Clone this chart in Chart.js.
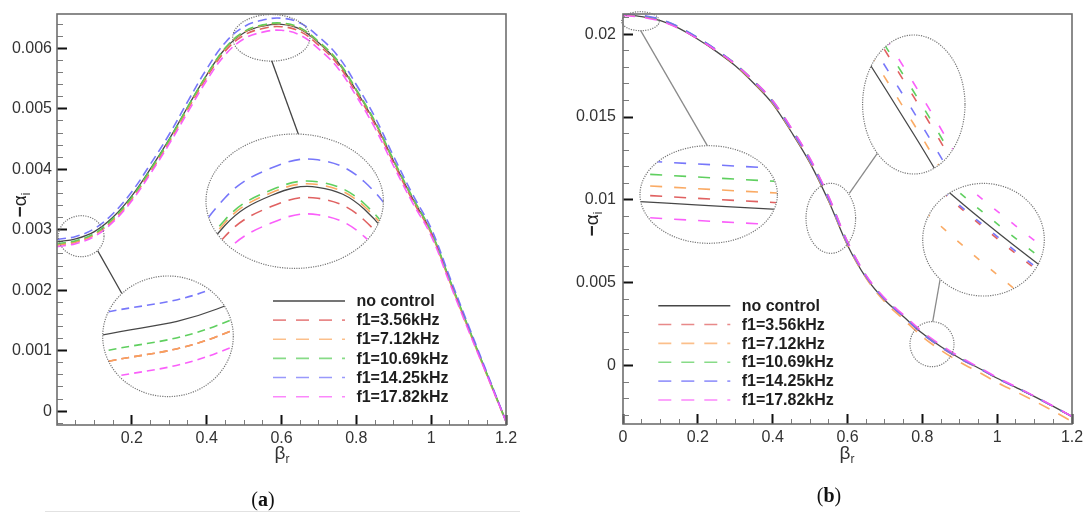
<!DOCTYPE html>
<html>
<head>
<meta charset="utf-8">
<script src="https://cdn.jsdelivr.net/npm/chart.js@4.4.0/dist/chart.umd.min.js"></script>
<style>
  html, body { margin: 0; padding: 0; background: #fff; }
  body { width: 1085px; height: 513px; position: relative; overflow: hidden; font-family: Arial, "Liberation Sans", sans-serif; }
  canvas.main { position: absolute; top: 0; z-index: 1; }
  .inset { position: absolute; z-index: 2; background: #fff; clip-path: ellipse(50% 50% at 50% 50%); }
  .inset canvas { position: absolute; left: 0; top: 0; }
  #marks { position: absolute; left: 0; top: 0; z-index: 3; }
  .txt { position: absolute; z-index: 4; white-space: nowrap; }
  .leg { font-weight: bold; font-size: 16px; line-height: 16px; color: #1e1e1e; }
  .ytitle { font-size: 19px; line-height: 19px; color: #222; transform: translate(-50%, -50%) rotate(-90deg); }
  .xtitle { font-size: 19px; line-height: 19px; color: #333; transform: translateX(-50%); }
  .panel { font-family: "Liberation Serif", "Times New Roman", serif; font-size: 20px; line-height: 20px; color: #111; transform: translateX(-50%); }
</style>
</head>
<body>
<canvas id="canvasA" class="main" style="left:0px" width="545" height="513"></canvas>
<canvas id="canvasB" class="main" style="left:545px" width="540" height="513"></canvas>
<svg id="marks" width="1085" height="513"></svg>

<div class="txt ytitle" style="left:21px;top:205px"><b>&minus;</b>&alpha;<span style="font-size:12px;position:relative;top:4px">i</span></div>
<div class="txt ytitle" style="left:593px;top:224px"><b>&minus;</b>&alpha;<span style="font-size:12px;position:relative;top:4px">i</span></div>
<div class="txt xtitle" style="left:282px;top:443px">&beta;<span style="font-size:12px;position:relative;top:4px">r</span></div>
<div class="txt xtitle" style="left:847px;top:443px">&beta;<span style="font-size:12px;position:relative;top:4px">r</span></div>
<div class="txt panel" style="left:263px;top:489px">(<b>a</b>)</div>
<div class="txt panel" style="left:829px;top:485px">(<b>b</b>)</div>
<div class="txt" style="left:45px;top:511px;width:475px;height:1px;background:#e2e2e2"></div>

<script>
// wavenumber axis shared by every curve
var betaR = [0, 0.05, 0.1, 0.15, 0.2, 0.25, 0.3, 0.35, 0.4, 0.45, 0.5, 0.55, 0.6,
             0.65, 0.7, 0.75, 0.8, 0.85, 0.9, 0.95, 1, 1.05, 1.1, 1.15, 1.2];

var seriesNames = ['no control', 'f1=3.56kHz', 'f1=7.12kHz', 'f1=10.69kHz', 'f1=14.25kHz', 'f1=17.82kHz'];

// (a)  -alpha_i
var noControlA = [0.00280, 0.00285, 0.00297, 0.00321, 0.00356, 0.00401, 0.00450, 0.00504, 0.00556, 0.00600, 0.00626, 0.00637, 0.00640,
                  0.00632, 0.00609, 0.00578, 0.00530, 0.00477, 0.00413, 0.00352, 0.00296, 0.00216, 0.00137, 0.00060, -0.00017];
var f356A  = [0.00275, 0.00280, 0.00292, 0.00316, 0.00351, 0.00396, 0.00446, 0.00500, 0.00552, 0.00596, 0.00622, 0.00633, 0.00636,
              0.00628, 0.00605, 0.00574, 0.00526, 0.00474, 0.00410, 0.00349, 0.00294, 0.00214, 0.00136, 0.00059, -0.00017];
var f712A  = [0.00275, 0.00280, 0.00292, 0.00317, 0.00352, 0.00398, 0.00447, 0.00502, 0.00555, 0.00600, 0.00627, 0.00638, 0.00641,
              0.00633, 0.00610, 0.00579, 0.00531, 0.00478, 0.00414, 0.00353, 0.00296, 0.00215, 0.00135, 0.00058, -0.00018];
var f1069A = [0.00277, 0.00282, 0.00294, 0.00319, 0.00354, 0.00400, 0.00449, 0.00504, 0.00556, 0.00601, 0.00628, 0.00639, 0.00642,
              0.00634, 0.00611, 0.00580, 0.00532, 0.00479, 0.00415, 0.00354, 0.00297, 0.00217, 0.00138, 0.00060, -0.00017];
var f1425A = [0.00284, 0.00289, 0.00302, 0.00327, 0.00363, 0.00409, 0.00458, 0.00513, 0.00566, 0.00610, 0.00636, 0.00647, 0.00650,
              0.00642, 0.00619, 0.00588, 0.00540, 0.00486, 0.00421, 0.00359, 0.00302, 0.00221, 0.00141, 0.00062, -0.00017];
var f1782A = [0.00272, 0.00277, 0.00289, 0.00313, 0.00348, 0.00393, 0.00442, 0.00495, 0.00547, 0.00590, 0.00616, 0.00627, 0.00630,
              0.00622, 0.00599, 0.00568, 0.00521, 0.00468, 0.00405, 0.00345, 0.00290, 0.00211, 0.00133, 0.00058, -0.00017];

// (b)  -alpha_i
var noControlB = [0.02116, 0.02106, 0.02082, 0.02035, 0.01970, 0.01895, 0.01810, 0.01703, 0.01580, 0.01410, 0.01222, 0.00990, 0.00727,
                  0.00530, 0.00395, 0.00295, 0.00195, 0.00114, 0.00045, -0.00014, -0.00076, -0.00131, -0.00187, -0.00246, -0.00307];
var f356B  = [0.021174, 0.021074, 0.02084, 0.02038, 0.01975, 0.01902, 0.01820, 0.01716, 0.01596, 0.01429, 0.01243, 0.01012, 0.00742,
              0.00538, 0.00398, 0.00295, 0.00192, 0.00111, 0.00043, -0.00015, -0.00076, -0.00131, -0.00187, -0.00246, -0.00307];
var f712B  = [0.021194, 0.021094, 0.02086, 0.02039, 0.01974, 0.01899, 0.01814, 0.01708, 0.01585, 0.01415, 0.01228, 0.00996, 0.00730,
              0.00527, 0.00385, 0.00279, 0.00175, 0.00092, 0.00022, -0.00038, -0.00101, -0.00157, -0.00214, -0.00274, -0.00337];
var f1069B = [0.021218, 0.021118, 0.02088, 0.02042, 0.01978, 0.01905, 0.01822, 0.01718, 0.01598, 0.01431, 0.01246, 0.01015, 0.00747,
              0.00542, 0.00402, 0.00300, 0.00199, 0.00118, 0.00048, -0.00012, -0.00074, -0.00130, -0.00186, -0.00246, -0.00307];
var f1425B = [0.021245, 0.021145, 0.020905, 0.02044, 0.01979, 0.01905, 0.01820, 0.01714, 0.01592, 0.01422, 0.01235, 0.01003, 0.00737,
              0.00536, 0.00398, 0.00295, 0.00193, 0.00112, 0.00044, -0.00014, -0.00076, -0.00131, -0.00187, -0.00246, -0.00307];
var f1782B = [0.021128, 0.021028, 0.02079, 0.02034, 0.01972, 0.01901, 0.01820, 0.01718, 0.01600, 0.01435, 0.01250, 0.01020, 0.00749,
              0.00545, 0.00407, 0.00306, 0.00205, 0.00124, 0.00053, -0.00008, -0.00071, -0.00127, -0.00184, -0.00244, -0.00306];

// labelled tick values
var xTicksA = [0.2, 0.4, 0.6, 0.8, 1, 1.2];
var yTicksA = [0, 0.001, 0.002, 0.003, 0.004, 0.005, 0.006];
var xTicksB = [0, 0.2, 0.4, 0.6, 0.8, 1, 1.2];
var yTicksB = [0, 0.005, 0.01, 0.015, 0.02];

var seriesA = [noControlA, f356A, f712A, f1069A, f1425A, f1782A];
var seriesB = [noControlB, f356B, f712B, f1069B, f1425B, f1782B];

var lineColors = ['#474747', 'rgba(222,88,88,0.95)', 'rgba(250,165,92,0.95)', 'rgba(86,204,86,0.95)',
                  'rgba(112,112,250,0.95)', 'rgba(250,86,250,0.95)'];

Chart.defaults.font.family = 'Arial, "Liberation Sans", sans-serif';

function makeDatasets(arrs, dash, extra) {
  return arrs.map(function (arr, i) {
    var ds = {
      label: seriesNames[i],
      data: betaR.map(function (b, k) { return { x: b, y: arr[k] }; }),
      borderColor: lineColors[i],
      borderWidth: i === 0 ? 1.3 : 1.6,
      borderDash: i === 0 ? [] : dash.slice(),
      pointRadius: 0,
      fill: false,
      order: 6 - i
    };
    for (var key in extra) ds[key] = extra[key];
    return ds;
  });
}

// every minor step becomes a tick; the labelled ones are flagged major
function tickList(lo, hi, step, majors) {
  var out = [];
  for (var i = Math.ceil(lo / step - 1e-9); i * step <= hi + 1e-12; i++) {
    var v = +(i * step).toFixed(6);
    out.push({ value: v, major: majors.some(function (m) { return Math.abs(m - v) < step / 10; }) });
  }
  return out;
}

function isMajor(c) { return !!(c.tick && c.tick.major); }

function mainChart(id, arrs, cfg) {
  return new Chart(document.getElementById(id), {
    type: 'line',
    data: { datasets: makeDatasets(arrs, cfg.dash, cfg.interp) },
    options: {
      responsive: false,
      animation: false,
      events: [],
      layout: { padding: cfg.padding },
      plugins: { legend: { display: false }, tooltip: { enabled: false } },
      scales: {
        x: {
          type: 'linear', min: 0, max: 1.2,
          border: { display: false },
          grid: {
            display: true, drawOnChartArea: false, drawTicks: true, tickLength: -10,
            tickWidth: function (c) { return isMajor(c) ? 2 : 1; },
            tickColor: function (c) { return isMajor(c) ? '#111' : '#7c7c7c'; },
            tickBorderDash: function (c) { return isMajor(c) ? [] : [5, 100]; }
          },
          afterBuildTicks: function (s) { s.ticks = tickList(0, 1.2, 0.05, cfg.xTicks); },
          ticks: { color: '#333', font: { size: 16 }, padding: 14, maxRotation: 0, autoSkip: false,
                   callback: function (v, i, t) { return t[i] && t[i].major ? String(+v.toFixed(2)) : ''; } },
          afterFit: function (s) { s.height = 30; s.paddingLeft = 0; s.paddingRight = 0; }
        },
        y: {
          type: 'linear', min: cfg.yMin, max: cfg.yMax,
          border: { display: false },
          grid: {
            display: true, drawOnChartArea: false, drawTicks: true, tickLength: -10,
            tickWidth: function (c) { return isMajor(c) ? 2 : 1; },
            tickColor: function (c) { return isMajor(c) ? '#111' : '#7c7c7c'; },
            tickBorderDash: function (c) { return isMajor(c) ? [] : [0, 4, 6, 100]; }
          },
          afterBuildTicks: function (s) { s.ticks = tickList(cfg.yMin, cfg.yMax, cfg.yMinor, cfg.yTicks); },
          ticks: { color: '#333', font: { size: 16 }, padding: cfg.yPad + 10, autoSkip: false,
                   callback: function (v, i, t) { return t[i] && t[i].major ? String(+v.toFixed(4)) : ''; } },
          afterFit: function (s) { s.width = cfg.yWidth; s.paddingTop = 0; s.paddingBottom = 0; }
        }
      }
    }
  });
}

var cfgA = {
  dash: [9, 5], interp: { tension: 0.4 }, padding: { left: 0, right: 39, top: 14, bottom: 58 },
  yMin: -0.00023, yMax: 0.00657, yMinor: 0.0002, xTicks: xTicksA, yTicks: yTicksA, yWidth: 57, yPad: 5, offset: 0
};
var cfgB = {
  dash: [12, 10], interp: { cubicInterpolationMode: 'monotone' }, padding: { left: 0, right: 13, top: 14, bottom: 59 },
  yMin: -0.00352, yMax: 0.02122, yMinor: 0.001, xTicks: xTicksB, yTicks: yTicksB, yWidth: 78, yPad: 7, offset: 545
};
var mainA = mainChart('canvasA', seriesA, cfgA);
var mainB = mainChart('canvasB', seriesB, cfgB);

var svg = document.getElementById('marks');
function el(name, attrs) {
  var e = document.createElementNS('http://www.w3.org/2000/svg', name);
  for (var k in attrs) e.setAttribute(k, attrs[k]);
  svg.appendChild(e);
  return e;
}

// plot frame around each chart area
[[mainA, cfgA], [mainB, cfgB]].forEach(function (pair) {
  var a = pair[0].chartArea, o = pair[1].offset;
  el('rect', { x: a.left + o, y: a.top, width: a.right - a.left, height: a.bottom - a.top,
               fill: 'none', stroke: '#6e6e6e', 'stroke-width': 1.6 });
});

// magnified views: ellipse in page pixels, data window they show
var insets = [
  { arrs: seriesA, cx: 168, cy: 336.3, rx: 65.3, ry: 60.3, xr: [0.003, 0.057], yr: [0.00269, 0.00291], dash: [8, 5], interp: { tension: 0.4 } },
  { arrs: seriesA, cx: 294.7, cy: 201.2, rx: 88.7, ry: 67.2, xr: [0.48, 0.67], yr: [0.006106, 0.006594], dash: [12, 8], interp: { tension: 0.4 } },
  { arrs: seriesB, cx: 708.7, cy: 194.5, rx: 68.7, ry: 48.8, xr: [0.008, 0.018], yr: [0.021058, 0.021261], dash: [12, 12], interp: { cubicInterpolationMode: 'monotone' } },
  { arrs: seriesB, cx: 913.8, cy: 104.5, rx: 51.2, ry: 69.5, xr: [0.5403, 0.5598], yr: [0.009666, 0.010484], dash: [9, 17], interp: { cubicInterpolationMode: 'monotone' } },
  { arrs: seriesB, cx: 983.5, cy: 239.7, rx: 60.8, ry: 56.3, xr: [0.787, 0.813], yr: [0.001597, 0.002133], dash: [7, 15], interp: { cubicInterpolationMode: 'monotone' } }
];

insets.forEach(function (w) {
  var div = document.createElement('div');
  var wpx = Math.round(2 * w.rx), hpx = Math.round(2 * w.ry);
  div.className = 'inset';
  div.style.left = (w.cx - w.rx) + 'px';
  div.style.top = (w.cy - w.ry) + 'px';
  div.style.width = wpx + 'px';
  div.style.height = hpx + 'px';
  var cv = document.createElement('canvas');
  cv.width = wpx; cv.height = hpx;
  div.appendChild(cv);
  document.body.appendChild(div);
  new Chart(cv, {
    type: 'line',
    data: { datasets: makeDatasets(w.arrs, w.dash, w.interp) },
    options: {
      responsive: false, animation: false, events: [],
      layout: { padding: 0 },
      plugins: { legend: { display: false }, tooltip: { enabled: false } },
      scales: {
        x: { type: 'linear', display: false, min: w.xr[0], max: w.xr[1] },
        y: { type: 'linear', display: false, min: w.yr[0], max: w.yr[1] }
      }
    }
  });
  el('ellipse', { cx: w.cx, cy: w.cy, rx: w.rx, ry: w.ry, fill: 'none', stroke: '#777', 'stroke-width': 1.2, 'stroke-dasharray': '1.2 1.2' });
});

var smallRings = [[81.2, 236.2, 22.8, 20.5], [271.3, 37.8, 38.6, 23.3], [640.5, 21.2, 18.8, 9.5], [830.8, 218.3, 24.8, 35], [932, 344.2, 22, 22.5]];
smallRings.forEach(function (r) {
  el('ellipse', { cx: r[0], cy: r[1], rx: r[2], ry: r[3], fill: 'none', stroke: '#777', 'stroke-width': 1.2, 'stroke-dasharray': '1.2 1.2' });
});
var pointers = [[97.7, 250.7, 121.7, 293.3, '#444'], [271.7, 60.7, 298.3, 134, '#444'],
                [640.7, 30.7, 707.3, 145.7, '#8a8a8a'], [849.3, 193.3, 877.3, 153.3, '#8a8a8a'], [932.7, 321.7, 940, 280, '#8a8a8a']];
pointers.forEach(function (p) {
  el('line', { x1: p[0], y1: p[1], x2: p[2], y2: p[3], stroke: p[4], 'stroke-width': 1.3 });
});

function legend(lineX, textX, y0, step) {
  seriesNames.forEach(function (name, i) {
    var y = y0 + i * step;
    el('line', { x1: lineX, y1: y, x2: lineX + 72, y2: y, stroke: lineColors[i],
                 'stroke-width': i === 0 ? 1.4 : 1.6, 'stroke-dasharray': i === 0 ? 'none' : '13 10', opacity: i === 0 ? 1 : 0.75 });
    var d = document.createElement('div');
    d.className = 'txt leg';
    d.style.left = textX + 'px';
    d.style.top = (y - 7.8) + 'px';
    d.textContent = name;
    document.body.appendChild(d);
  });
}
legend(273, 356.4, 301, 19.14);
legend(658.3, 741.7, 305.7, 18.86);
</script>
</body>
</html>
